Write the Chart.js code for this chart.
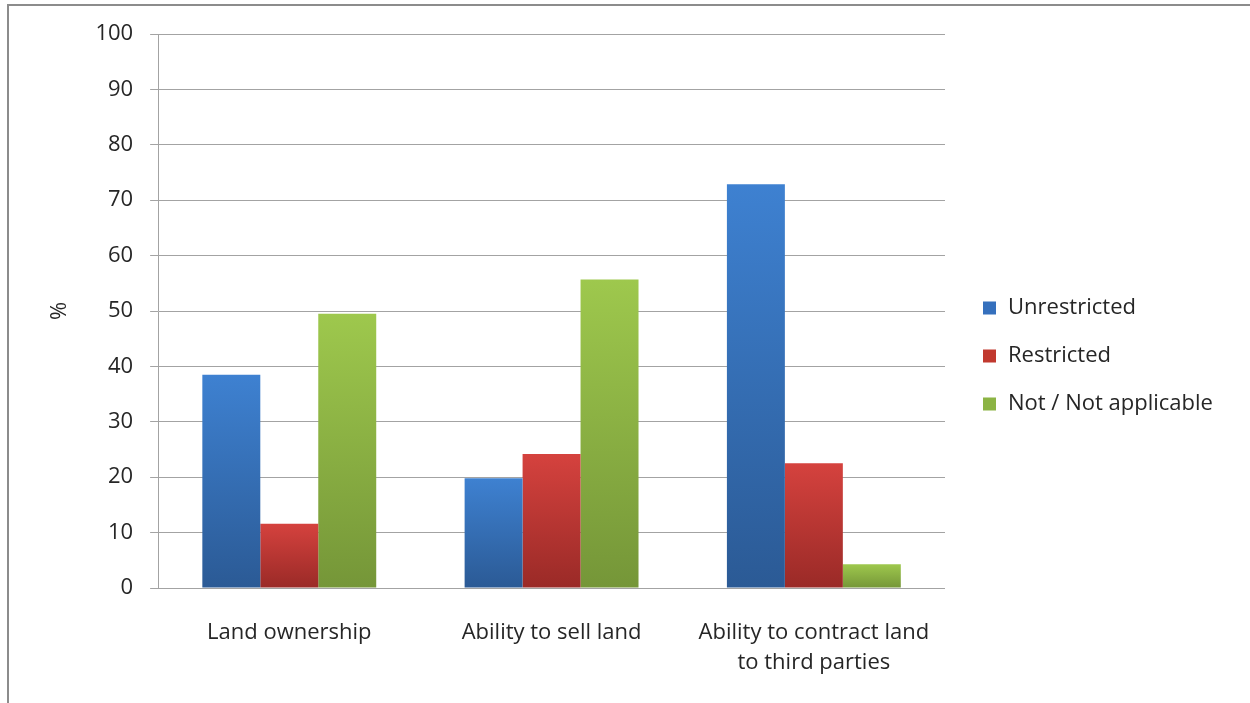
<!DOCTYPE html>
<html>
<head>
<meta charset="utf-8">
<title>Land rights</title>
<script src="https://cdn.jsdelivr.net/npm/chart.js@4.4.1/dist/chart.umd.min.js"></script>
<style>
    html, body { margin: 0; padding: 0; background: #fff; overflow: hidden; }
    .wrap { position: relative; width: 1250px; height: 703px; }
    .frame {
        position: absolute; left: 7px; top: 4px; width: 1300px; height: 800px;
        border-top: 2px solid #8c8c8c; border-left: 2px solid #8c8c8c;
        pointer-events: none;
    }
</style>
</head>
<body>
<div class="wrap">
    <canvas id="myChart" width="1250" height="703"></canvas>
    <div class="frame"></div>
</div>
<script>
// categories and values (%)
const categories = ["Land ownership", "Ability to sell land", ["Ability to contract land", "to third parties"]];
const seriesNames = ["Unrestricted", "Restricted", "Not / Not applicable"];
const unrestricted = [38.5, 19.8, 72.9];
const restricted = [11.6, 24.2, 22.5];
const notApplicable = [49.5, 55.7, 4.3];
const yTicks = [0, 10, 20, 30, 40, 50, 60, 70, 80, 90, 100];

const FONT = "'Open Sans', sans-serif";
const TEXT = "#262626";

// top / bottom / legend colour for each series
const palette = [
    { top: "#3e81d1", bottom: "#2b5a95", flat: "#3570bd" },
    { top: "#d5423e", bottom: "#9a2a27", flat: "#c1392f" },
    { top: "#9ec84d", bottom: "#759638", flat: "#8cb444" }
];

// each bar gets its own vertical gradient, light at the top
function barFill(i) {
    return function(ctx) {
        const c = palette[i];
        if (ctx.type !== "data" || !ctx.chart.chartArea) return c.flat;
        const y = ctx.chart.scales.y;
        const top = y.getPixelForValue(ctx.parsed.y);
        const bottom = y.getPixelForValue(0);
        if (!isFinite(top) || bottom - top < 1) return c.top;
        const g = ctx.chart.ctx.createLinearGradient(0, top, 0, bottom);
        g.addColorStop(0, c.top);
        g.addColorStop(1, c.bottom);
        return g;
    };
}

// legend on the right, square swatches
const sideLegend = {
    id: "sideLegend",
    afterDraw(chart, args, opts) {
        const ctx = chart.ctx;
        ctx.save();
        ctx.font = "22px " + FONT;
        ctx.textBaseline = "middle";
        ctx.textAlign = "left";
        chart.data.datasets.forEach((ds, i) => {
            const cy = opts.y + i * opts.gap;
            ctx.fillStyle = palette[i].flat;
            ctx.fillRect(opts.x, cy - 6.5, 13, 13);
            ctx.fillStyle = TEXT;
            ctx.fillText(ds.label, opts.x + 25, cy);
        });
        ctx.restore();
    }
};

const seriesData = [unrestricted, restricted, notApplicable];

const myChart = new Chart(document.getElementById("myChart").getContext("2d"), {
    type: "bar",
    data: {
        labels: categories,
        datasets: seriesNames.map((name, i) => ({
            label: name,
            data: seriesData[i],
            backgroundColor: barFill(i),
            borderWidth: 0,
            barPercentage: 1,
            categoryPercentage: 0.663
        }))
    },
    options: {
        responsive: false,
        animation: false,
        devicePixelRatio: 1,
        layout: { padding: { left: 0, top: 34, right: 305, bottom: 0 } },
        plugins: {
            legend: { display: false },
            tooltip: { enabled: false },
            sideLegend: { x: 983, y: 308, gap: 48 }
        },
        scales: {
            x: {
                grid: { display: false, drawTicks: false },
                border: { display: false },
                ticks: {
                    color: TEXT,
                    padding: 29,
                    maxRotation: 0,
                    font: { family: FONT, size: 22, lineHeight: 1.4 }
                },
                afterFit(axis) { axis.height = 115; }
            },
            y: {
                min: 0,
                max: 100,
                afterBuildTicks(axis) { axis.ticks = yTicks.map(v => ({ value: v })); },
                grid: { color: "#a3a3a3", lineWidth: 1, tickLength: 8 },
                border: { color: "#a3a3a3", width: 1 },
                ticks: {
                    color: TEXT,
                    padding: 17,
                    font: { family: FONT, size: 22 }
                },
                title: {
                    display: true,
                    text: "%",
                    color: TEXT,
                    font: { family: FONT, size: 22 },
                    padding: { top: 47, bottom: 5 }
                }
            }
        }
    },
    plugins: [sideLegend]
});
</script>
</body>
</html>
